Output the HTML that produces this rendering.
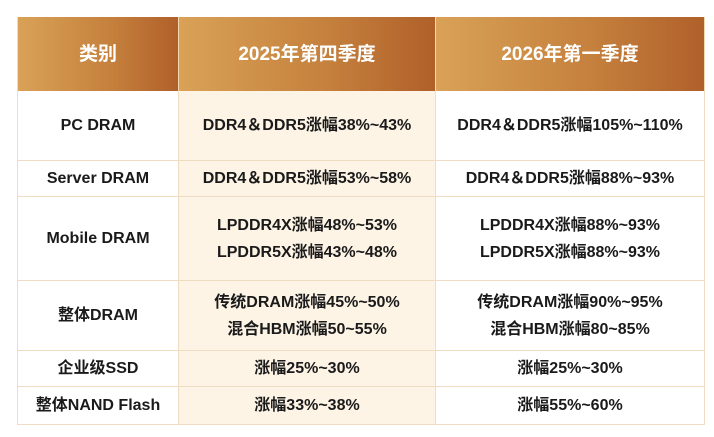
<!DOCTYPE html>
<html><head><meta charset="utf-8"><style>
body{margin:0;width:714px;height:437px;background:#fff;overflow:hidden;font-family:"Liberation Sans","Noto Sans CJK SC",sans-serif;}
.c{position:absolute;display:flex;flex-direction:column;justify-content:center;align-items:center;box-sizing:border-box;font-weight:bold;font-size:16px;color:#1a1a1a;line-height:27px;border-right:1px solid #f0dcc0;border-bottom:1px solid #f0dcc0;white-space:nowrap;}
.h{color:#fff;font-size:19px;background:linear-gradient(90deg,#d9a257,#c47f3c 60%,#b0602a);border-right:1px solid #f3d7b0;border-bottom:none;}
.m{background:#fdf4e6;}
</style></head><body>
<div style="position:absolute;left:17px;top:17px;width:687px;height:408px;border-left:1px solid #f0dcc0;">
<div class="c h" style="left:0;top:0;width:161px;height:74px;">类别</div>
<div class="c h" style="left:161px;top:0;width:257px;height:74px;">2025年第四季度</div>
<div class="c h" style="left:418px;top:0;width:269px;height:74px;">2026年第一季度</div>

<div class="c" style="left:0;top:74px;width:161px;height:70px;">PC DRAM</div>
<div class="c m" style="left:161px;top:74px;width:257px;height:70px;">DDR4＆DDR5涨幅38%~43%</div>
<div class="c" style="left:418px;top:74px;width:269px;height:70px;">DDR4＆DDR5涨幅105%~110%</div>

<div class="c" style="left:0;top:144px;width:161px;height:36px;">Server DRAM</div>
<div class="c m" style="left:161px;top:144px;width:257px;height:36px;">DDR4＆DDR5涨幅53%~58%</div>
<div class="c" style="left:418px;top:144px;width:269px;height:36px;">DDR4＆DDR5涨幅88%~93%</div>

<div class="c" style="left:0;top:180px;width:161px;height:84px;">Mobile DRAM</div>
<div class="c m" style="left:161px;top:180px;width:257px;height:84px;"><div>LPDDR4X涨幅48%~53%</div><div>LPDDR5X涨幅43%~48%</div></div>
<div class="c" style="left:418px;top:180px;width:269px;height:84px;"><div>LPDDR4X涨幅88%~93%</div><div>LPDDR5X涨幅88%~93%</div></div>

<div class="c" style="left:0;top:264px;width:161px;height:70px;">整体DRAM</div>
<div class="c m" style="left:161px;top:264px;width:257px;height:70px;"><div>传统DRAM涨幅45%~50%</div><div>混合HBM涨幅50~55%</div></div>
<div class="c" style="left:418px;top:264px;width:269px;height:70px;"><div>传统DRAM涨幅90%~95%</div><div>混合HBM涨幅80~85%</div></div>

<div class="c" style="left:0;top:334px;width:161px;height:36px;">企业级SSD</div>
<div class="c m" style="left:161px;top:334px;width:257px;height:36px;">涨幅25%~30%</div>
<div class="c" style="left:418px;top:334px;width:269px;height:36px;">涨幅25%~30%</div>

<div class="c" style="left:0;top:370px;width:161px;height:38px;">整体NAND Flash</div>
<div class="c m" style="left:161px;top:370px;width:257px;height:38px;">涨幅33%~38%</div>
<div class="c" style="left:418px;top:370px;width:269px;height:38px;">涨幅55%~60%</div>
</div>
</body></html>
